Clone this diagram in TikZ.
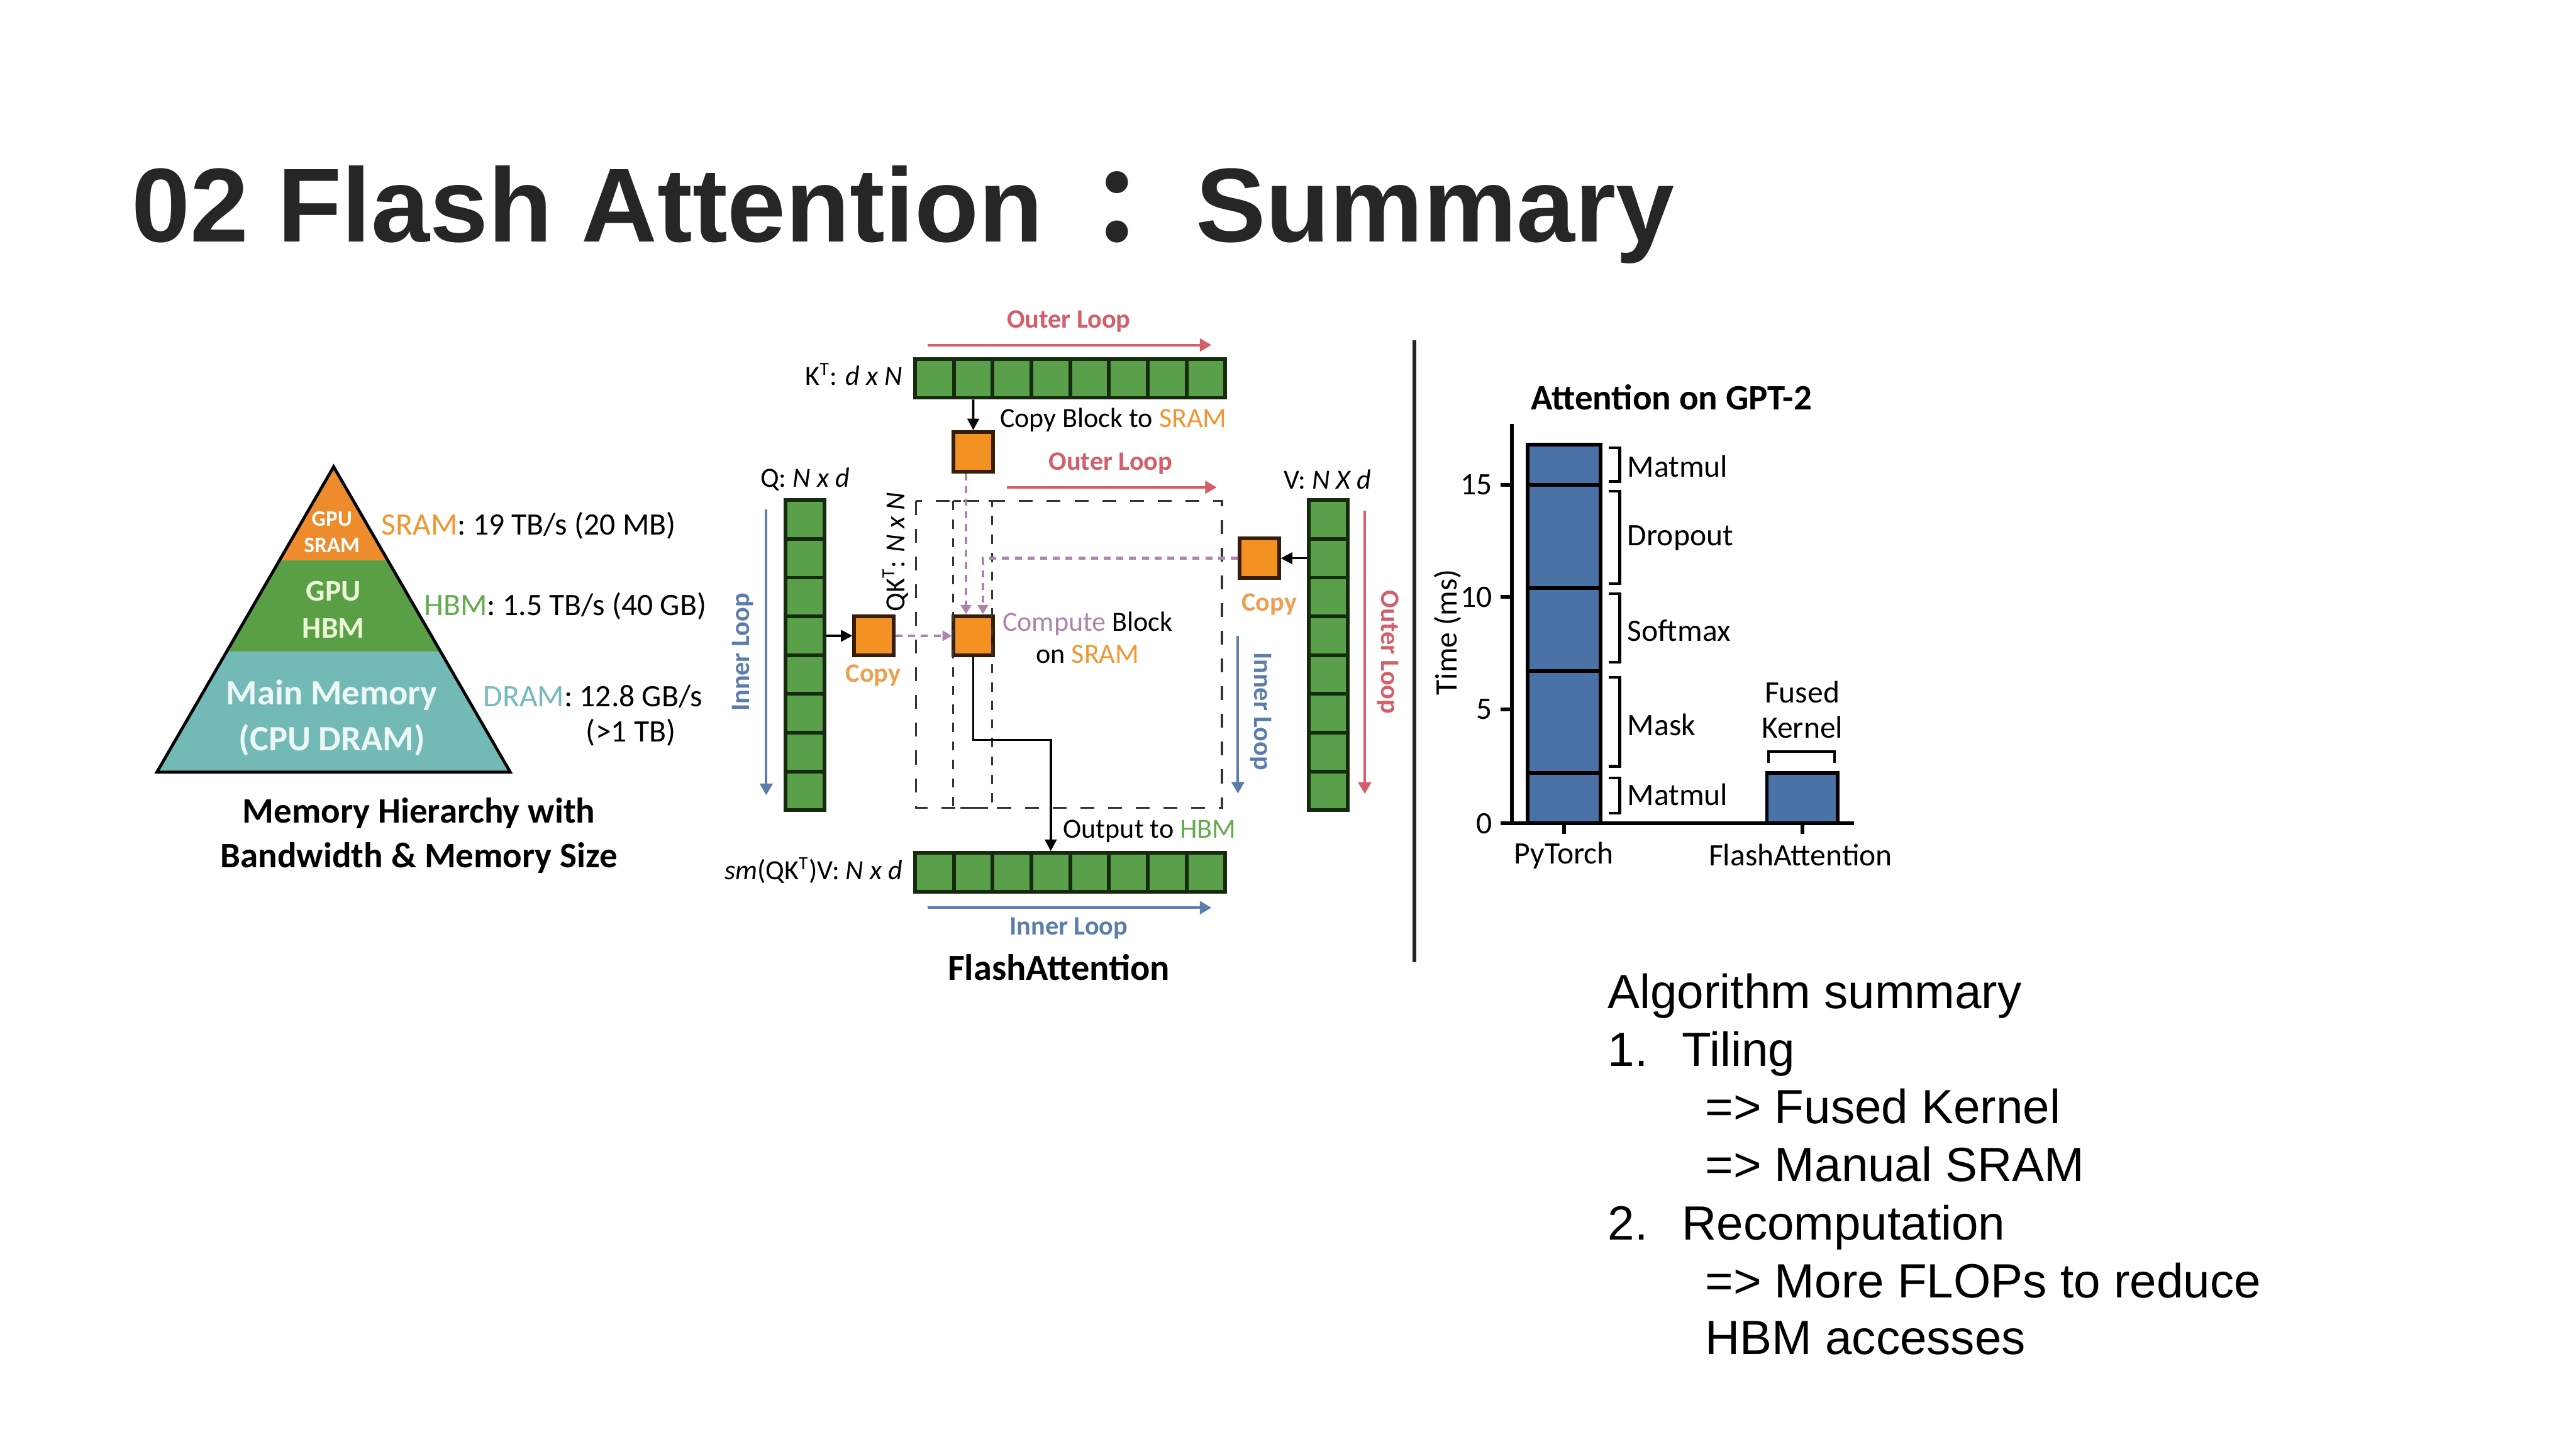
\documentclass[tikz,border=0pt]{standalone}
\usepackage{fontspec}
\setmainfont{Carlito}
\newfontfamily\slidefont{Liberation Sans}
\newfontfamily\cjkfont{Noto Sans CJK SC}
\usepackage{tikz}
\usetikzlibrary{arrows.meta,calc}
\definecolor{titlegray}{RGB}{38,38,38}
\definecolor{cellgreen}{RGB}{90,160,75}
\definecolor{celledge}{RGB}{22,42,16}
\definecolor{blockor}{RGB}{243,146,35}
\definecolor{blockedge}{RGB}{55,28,6}
\definecolor{loopred}{RGB}{210,95,105}
\definecolor{loopblue}{RGB}{90,125,170}
\definecolor{purp}{RGB}{172,132,172}
\definecolor{txtor}{RGB}{240,150,50}
\definecolor{copyor}{RGB}{236,160,80}
\definecolor{txtgr}{RGB}{100,170,80}
\definecolor{txtteal}{RGB}{118,186,186}
\definecolor{pyror}{RGB}{238,140,45}
\definecolor{pyrgr}{RGB}{90,158,70}
\definecolor{pyrteal}{RGB}{115,185,182}
\definecolor{palegreen}{RGB}{235,248,215}
\definecolor{paleteal}{RGB}{235,248,245}
\definecolor{barblue}{RGB}{74,114,166}
\tikzset{
  tilecell/.style={draw=celledge, fill=cellgreen, line width=1.6pt, minimum size=0.59cm, inner sep=0pt},
  sramblk/.style={draw=blockedge, fill=blockor, line width=1.6pt, minimum size=0.6cm, inner sep=0pt},
  figlbl/.style={font=\fontsize{12}{14}\selectfont, inner sep=1pt},
  looplbl/.style={font=\bfseries\fontsize{11.5}{14}\selectfont, inner sep=1pt},
  pyrlbl/.style={font=\fontsize{13.5}{16}\selectfont, inner sep=0pt},
  chartlbl/.style={font=\fontsize{13.5}{16}\selectfont, inner sep=1pt},
  sumline/.style={font=\slidefont\fontsize{20.8}{25}\selectfont, anchor=base west, inner sep=0pt},
  blkarr/.style={-{Triangle[length=5pt,width=5pt]}, line width=1pt, black},
  redarr/.style={-{Triangle[length=5pt,width=5.5pt]}, line width=1.1pt, loopred},
  bluearr/.style={-{Triangle[length=5pt,width=5.5pt]}, line width=1.1pt, loopblue},
  purparr/.style={-{Triangle[length=4pt,width=4.5pt]}, line width=1.3pt, purp, dash pattern=on 3pt off 2.5pt},
  tilebox/.style={black!80, line width=0.9pt, dash pattern=on 6pt off 6pt},
  colbox/.style={black!80, line width=0.9pt, dash pattern=on 4pt off 4pt},
  bracketln/.style={line width=1.2pt, black},
  axisln/.style={line width=1.6pt, black},
  barbox/.style={draw=black, fill=barblue, line width=1.6pt}
}

\begin{document}
\begin{tikzpicture}[x=0.025cm, y=-0.025cm]
  \fill[white] (0,0) rectangle (1568,882);
  \useasboundingbox (0,0) rectangle (1568,882);

  % Title
  \node[font=\slidefont\bfseries\fontsize{45.5}{50}\selectfont, text=titlegray, anchor=base west, inner sep=0pt]
       (title) at (80,147) {02 Flash Attention\hspace{20.6pt}\makebox[45.5pt][l]{\cjkfont ：}Summary};

  % Memory pyramid
  \coordinate (apex) at (203.1,284.1);
  \coordinate (bl) at (95.5,470);
  \coordinate (br) at (310.6,470);
  \coordinate (s1l) at ($(apex)!0.306!(bl)$);
  \coordinate (s1r) at ($(apex)!0.306!(br)$);
  \coordinate (s2l) at ($(apex)!0.606!(bl)$);
  \coordinate (s2r) at ($(apex)!0.606!(br)$);
  \fill[pyror] (apex) -- (s1r) -- (s1l) -- cycle;
  \fill[pyrgr] (s1l) -- (s1r) -- (s2r) -- (s2l) -- cycle;
  \fill[pyrteal] (s2l) -- (s2r) -- (br) -- (bl) -- cycle;
  \draw[line width=1.3pt] (apex) -- (br) -- (bl) -- cycle;
  \node[font=\bfseries\fontsize{9.6}{11.4}\selectfont, text=white, align=center, inner sep=0pt] (gsram) at (202,324) {GPU\\SRAM};
  \node[font=\bfseries\fontsize{13}{16}\selectfont, text=palegreen, align=center, inner sep=0pt] (ghbm) at (203,371) {GPU\\HBM};
  \node[font=\bfseries\fontsize{15.4}{20}\selectfont, text=paleteal, align=center, inner sep=0pt] (mmem) at (202,437) {Main Memory\\(CPU DRAM)};

  % Bandwidth labels
  \node[pyrlbl, anchor=west] (srl) at (232,319.8) {\textcolor{txtor}{SRAM}: 19 TB/s (20 MB)};
  \node[pyrlbl, anchor=west] (hbl) at (258,369) {\textcolor{txtgr}{HBM}: 1.5 TB/s (40 GB)};
  \node[pyrlbl, anchor=west] (drl) at (294,424) {\textcolor{txtteal}{DRAM}: 12.8 GB/s};
  \node[pyrlbl] (drl2) at (384,446) {(>1 TB)};
  \node[font=\bfseries\fontsize{15.5}{19.2}\selectfont, align=center] (memcap) at (255,508.5)
       {Memory Hierarchy with\\Bandwidth \& Memory Size};

  % Tiles of K^T, output, Q and V
  \foreach \i in {0,...,7} {
    \node[tilecell] (k\i) at (568.8+23.6*\i,230.3) {};
    \node[tilecell] (o\i) at (568.8+23.6*\i,531) {};
    \node[tilecell] (q\i) at (490,316.2+23.6*\i) {};
    \node[tilecell] (v\i) at (808.5,316.2+23.6*\i) {};
  }

  % Blocks on SRAM
  \node[sramblk] (kblk) at (592.4,275) {};
  \node[sramblk] (qblk) at (532,387) {};
  \node[sramblk] (cblk) at (592.4,387) {};
  \node[sramblk] (vblk) at (766.5,339.8) {};

  % Dashed QK^T tiles
  \draw[tilebox] (557.5,305) rectangle (743.8,491.8);
  \draw[colbox] (580.2,305) rectangle (603.8,491.8);

  % Copies and compute
  \draw[blkarr] (k1.south) -- (kblk.north);
  \draw[blkarr] (q3.east) -- (qblk.west);
  \draw[blkarr] (v1.west) -- (vblk.east);
  \draw[purparr] (qblk.east) -- (cblk.west);
  \draw[purparr] ($(kblk.south)+(-4.4,0)$) -- ($(cblk.north)+(-4.4,0)$);
  \draw[purparr] (vblk.west) -| ($(cblk.north)+(5.9,0)$);
  \coordinate (obend) at (639.6,450.4);
  \draw[blkarr] (cblk.south) |- (obend) -- (o3.north);

  % Matrix labels
  \node[figlbl, anchor=east] (ktl) at (551,228) {K\textsuperscript{T}: \textit{d x N}};
  \node[figlbl] (qtl) at (490,291.7) {Q: \textit{N x d}};
  \node[figlbl] (vtl) at (808,291.7) {V: \textit{N X d}};
  \node[figlbl, anchor=east] (otl) at (551,530) {\textit{sm}(QK\textsuperscript{T})V: \textit{N x d}};
  \node[figlbl, rotate=90] (qkl) at (545,336) {QK\textsuperscript{T}: \textit{N x N}};
  \node[figlbl, anchor=west] (cpl) at (607,255.6) {Copy Block to \textcolor{txtor}{SRAM}};
  \node[figlbl, align=center] (cml) at (662,388) {\textcolor{purp}{Compute} Block\\on \textcolor{txtor}{SRAM}};
  \node[looplbl, text=copyor] (qcp) at (531.6,411) {Copy};
  \node[looplbl, text=copyor] (vcp) at (772.6,368) {Copy};
  \node[figlbl, anchor=west] (outl) at (645.5,505.9) {Output to \textcolor{txtgr}{HBM}};

  % Loops
  \coordinate (ol1s) at (564.5,210);   \coordinate (ol1e) at (737.4,210);
  \coordinate (ol2s) at (613,296.6);   \coordinate (ol2e) at (740.6,296.6);
  \coordinate (ol3s) at (830.7,310.7); \coordinate (ol3e) at (830.7,483.2);
  \coordinate (il1s) at (466.4,310);   \coordinate (il1e) at (466.4,484);
  \coordinate (il2s) at (753.5,387);   \coordinate (il2e) at (753.5,483);
  \coordinate (il3s) at (564.5,552.5); \coordinate (il3e) at (737.4,552.5);
  \draw[redarr] (ol1s) -- (ol1e);
  \draw[redarr] (ol2s) -- (ol2e);
  \draw[redarr] (ol3s) -- (ol3e);
  \draw[bluearr] (il1s) -- (il1e);
  \draw[bluearr] (il2s) -- (il2e);
  \draw[bluearr] (il3s) -- (il3e);
  \node[looplbl, text=loopred] (ol1) at (650.5,195.5) {Outer Loop};
  \node[looplbl, text=loopred] (ol2) at (676,282) {Outer Loop};
  \node[looplbl, text=loopred, rotate=-90] (ol3) at (844.8,397) {Outer Loop};
  \node[looplbl, text=loopblue, rotate=90] (il1) at (452,397) {Inner Loop};
  \node[looplbl, text=loopblue, rotate=-90] (il2) at (767.6,433) {Inner Loop};
  \node[looplbl, text=loopblue] (il3) at (650.5,565) {Inner Loop};
  \node[font=\bfseries\fontsize{15.9}{18}\selectfont] (facap) at (644.5,589) {FlashAttention};

  % Divider
  \draw[line width=1.5pt, black!85] (861,207) -- (861,585.7);

  % Attention on GPT-2 bars
  \draw[barbox] (930,270.5) rectangle (974.3,501.2);
  \foreach \yy in {295,358,408.3,470.5}
    \draw[line width=1.6pt] (930,\yy) -- (974.3,\yy);
  \draw[barbox] (1075.5,470.5) rectangle (1118.6,501.2);
  \draw[axisln] (920.4,258.2) -- (920.4,501.2);
  \draw[axisln] (913.5,501.2) -- (1128.4,501.2);
  \foreach \v/\yy in {0/501.2,5/431.8,10/363.4,15/295} {
    \draw[axisln] (913.5,\yy) -- (920.4,\yy);
    \node[chartlbl, anchor=east] (tk\v) at (910,\yy) {\v};
  }
  \draw[axisln] (952,501.2) -- (952,507.5);
  \draw[axisln] (1097,501.2) -- (1097,507.5);
  \foreach \ya/\yb in {272.6/293,299/355.2,361.4/403.2,412.3/466.5,473.6/495}
    \draw[bracketln] (979.2,\ya) -- (986,\ya) -- (986,\yb) -- (979.2,\yb);
  \draw[bracketln] (1076.5,464.5) -- (1076.5,457.4) -- (1116.6,457.4) -- (1116.6,464.5);
  \node[chartlbl, anchor=west] (mm1) at (989,283.9) {Matmul};
  \node[chartlbl, anchor=west] (dro) at (989,327.6) {Dropout};
  \node[chartlbl, anchor=west] (sfm) at (989,383.8) {Softmax};
  \node[chartlbl, anchor=west] (msk) at (989,441) {Mask};
  \node[chartlbl, anchor=west] (mm2) at (989,483.8) {Matmul};
  \node[chartlbl, align=center, font=\fontsize{13.5}{15.2}\selectfont] (fk) at (1097,432) {Fused\\Kernel};
  \node[font=\bfseries\fontsize{15.5}{18}\selectfont] (ctitle) at (1017.5,242) {Attention on GPT-2};
  \node[chartlbl, rotate=90] (ylbl) at (881,384.8) {Time (ms)};
  \node[chartlbl] (xpt) at (952,520.6) {PyTorch};
  \node[chartlbl] (xfa) at (1096,520.6) {FlashAttention};

  % Algorithm summary
  \node[sumline] (sm0) at (978.4,613.9) {Algorithm summary};
  \node[sumline] (sm1n) at (978.4,648.9) {1.};
  \node[sumline] (sm1) at (1023.5,648.9) {Tiling};
  \node[sumline] (sm2) at (1037.7,684) {=> Fused Kernel};
  \node[sumline] (sm3) at (1037.7,719.2) {=> Manual SRAM};
  \node[sumline] (sm4n) at (978.4,754.6) {2.};
  \node[sumline] (sm4) at (1023.5,754.6) {Recomputation};
  \node[sumline] (sm5) at (1037.7,790) {=> More FLOPs to reduce};
  \node[sumline] (sm6) at (1037.7,824.5) {HBM accesses};
\end{tikzpicture}
\end{document}
